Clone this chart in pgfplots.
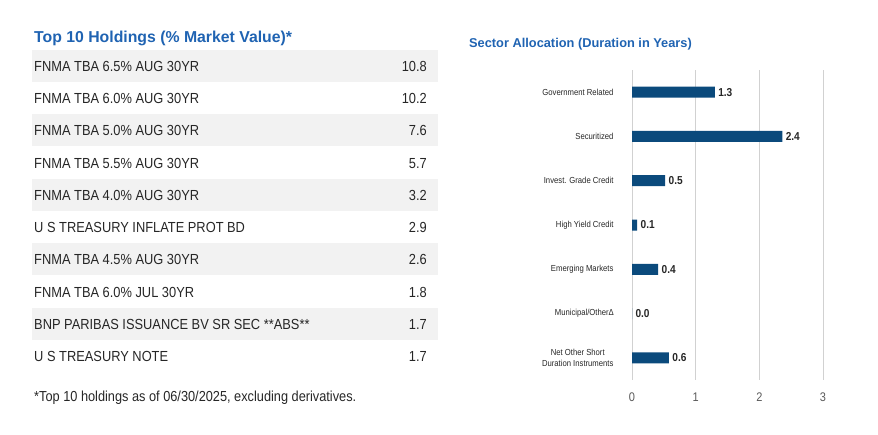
\documentclass[border=0pt]{standalone}
\usepackage{fontspec}
\setmainfont{Liberation Sans}
\newfontfamily\narrow{Liberation Sans}[FakeStretch=0.88]
\usepackage{pgfplots}
\pgfplotsset{compat=1.18}
\definecolor{titleblue}{RGB}{31,99,178}
\definecolor{barblue}{RGB}{11,74,124}
\definecolor{rowgrey}{RGB}{242,242,242}
\definecolor{txt}{RGB}{38,38,38}

\begin{document}
\begin{tikzpicture}[x=1pt,y=-1pt]
\path (0,0) rectangle (878,435);

% left: holdings table
\node[anchor=base west, inner sep=0, text=titleblue, font=\fontsize{15.8}{18}\selectfont\bfseries] at (34,43) {Top 10 Holdings (\% Market Value)*};
\foreach \name/\val [count=\i from 0] in {
  FNMA TBA 6.5\% AUG 30YR/10.8,
  FNMA TBA 6.0\% AUG 30YR/10.2,
  FNMA TBA 5.0\% AUG 30YR/7.6,
  FNMA TBA 5.5\% AUG 30YR/5.7,
  FNMA TBA 4.0\% AUG 30YR/3.2,
  U S TREASURY INFLATE PROT BD/2.9,
  FNMA TBA 4.5\% AUG 30YR/2.6,
  FNMA TBA 6.0\% JUL 30YR/1.8,
  BNP PARIBAS ISSUANCE BV SR SEC **ABS**/1.7,
  U S TREASURY NOTE/1.7}{
  \pgfmathsetmacro\yc{66+32.25*\i}
  \ifodd\i\else
    \fill[rowgrey] (32,\yc-16) rectangle (438,\yc+16);
  \fi
  \node[anchor=base west, inner sep=0, text=txt, font=\narrow\fontsize{14.6}{16}\selectfont] at (34,\yc+5.3) {\name};
  \node[anchor=base east, inner sep=0, text=txt, font=\narrow\fontsize{14.6}{16}\selectfont] at (427,\yc+5.3) {\val};
}
\node[anchor=base west, inner sep=0, text=txt, font=\narrow\fontsize{14.5}{16}\selectfont] at (34,402) {*Top 10 holdings as of 06/30/2025, excluding derivatives.};

% right: sector allocation
\node[anchor=base west, inner sep=0, text=titleblue, font=\fontsize{12.8}{15}\selectfont\bfseries] at (469,48) {Sector Allocation (Duration in Years)};

\begin{axis}[
  at={(632pt,-380pt)}, anchor=south west,
  scale only axis, width=191pt, height=310pt,
  xbar, bar width=11pt,
  xmin=0, xmax=3, ymin=-0.5, ymax=6.5, y dir=reverse,
  xtick={0,1,2,3}, ytick={0,...,6},
  yticklabels={Government Related, Securitized, Invest. Grade Credit, High Yield Credit, Emerging Markets, Municipal/Other∆, {Net Other Short\\Duration Instruments}},
  axis line style={draw=none}, major tick length=0pt,
  xmajorgrids, grid style={draw=black!18, line width=0.8pt},
  yticklabel style={font=\narrow\fontsize{8.75}{10.5}\selectfont, text=txt, align=center, xshift=-15pt},
  xticklabel style={font=\narrow\fontsize{12.5}{14}\selectfont, text=black!65, yshift=-9pt},
  /pgf/number format/assume math mode=true,
  nodes near coords,
  every node near coord/.append style={font=\narrow\bfseries\fontsize{11.5}{13}\selectfont, text=txt,
    /pgf/number format/fixed, /pgf/number format/fixed zerofill, /pgf/number format/precision=1},
  clip=false,
]
\addplot[fill=barblue, draw=none] coordinates {(1.30,0) (2.36,1) (0.52,2) (0.08,3) (0.41,4) (0.0,5) (0.58,6)};
\end{axis}
\end{tikzpicture}
\end{document}
